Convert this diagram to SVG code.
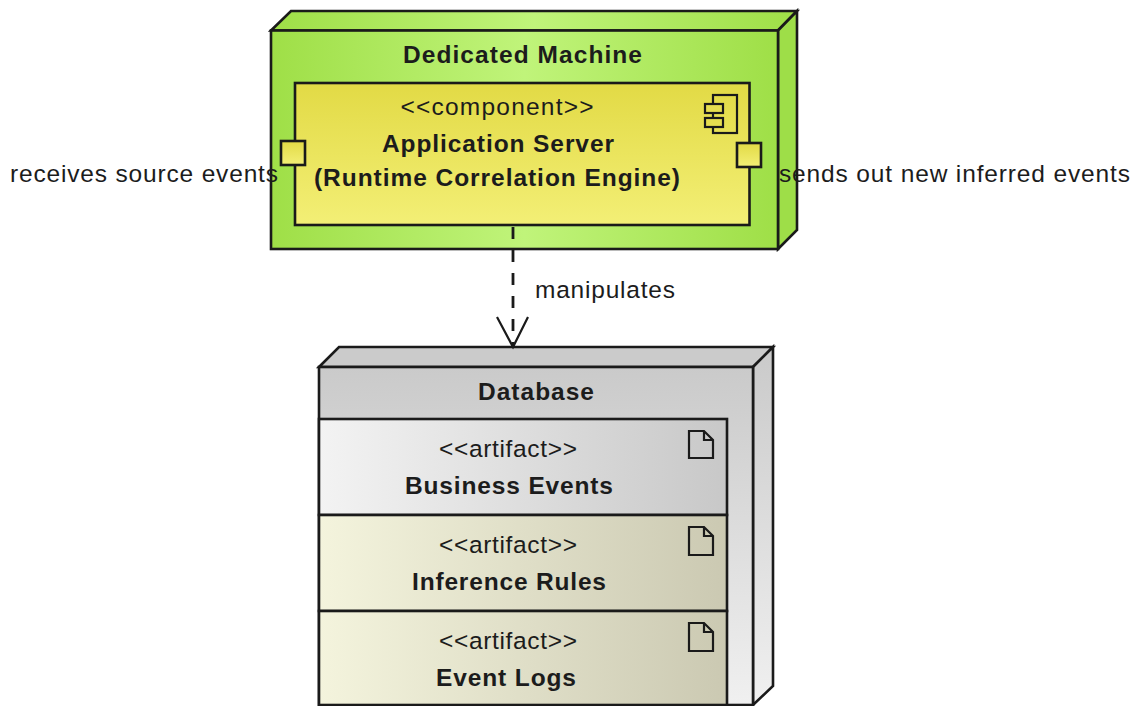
<svg xmlns="http://www.w3.org/2000/svg" width="1136" height="706" viewBox="0 0 1136 706">
<style>
text{font-family:"Liberation Sans",Arial,sans-serif;fill:#1c1c1c;font-size:24.500px}
.b{font-weight:bold}
.s{stroke:#1a1a1a;stroke-width:2.600;stroke-linejoin:miter}
.i{fill:none;stroke:#1a1a1a;stroke-width:2.200}
.m{fill:#e6de50;stroke:#1a1a1a;stroke-width:2.200}
</style>
<defs>
<linearGradient id="gn"><stop offset="0" stop-color="#9fdf47"/><stop offset=".5" stop-color="#c0f47a"/><stop offset="1" stop-color="#9fdf47"/></linearGradient>
<linearGradient id="yl" x2="0" y2="1"><stop offset="0" stop-color="#e2da45"/><stop offset="1" stop-color="#f3ef76"/></linearGradient>
<linearGradient id="gy" x2="0" y2="1"><stop offset="0" stop-color="#cacaca"/><stop offset="1" stop-color="#f0f0f0"/></linearGradient>
<linearGradient id="ws"><stop offset="0" stop-color="#f3f3f3"/><stop offset="1" stop-color="#c8c8c8"/></linearGradient>
<linearGradient id="ar"><stop offset="0" stop-color="#f4f4dd"/><stop offset="1" stop-color="#cbc9b2"/></linearGradient>
</defs>
<g id="node-database">
<path class="s" d="M319 367L339 347H773L753 367Z" fill="#cbcbcb"/>
<path class="s" d="M753 367L773 347V686L753 705Z" fill="url(#gy)"/>
<rect class="s" x="319" y="367" width="434" height="338" fill="url(#gy)"/>
<text class="b" x="536" y="400" text-anchor="middle" textLength="116">Database</text>
</g>
<g id="node-business-events">
<rect class="s" x="319" y="419" width="408" height="96" fill="url(#ws)"/>
<text x="508" y="457" text-anchor="middle" textLength="138">&lt;&lt;artifact&gt;&gt;</text>
<text class="b" x="509" y="494" text-anchor="middle" textLength="208">Business Events</text>
<path class="i" d="M689 431H704L713 440V458H689ZM704 431V440H713"/>
</g>
<g id="node-inference-rules">
<rect class="s" x="319" y="515" width="408" height="96" fill="url(#ar)"/>
<text x="508" y="553" text-anchor="middle" textLength="138">&lt;&lt;artifact&gt;&gt;</text>
<text class="b" x="509" y="590" text-anchor="middle" textLength="194">Inference Rules</text>
<path class="i" d="M689 527H704L713 536V555H689ZM704 527V536H713"/>
</g>
<g id="node-event-logs">
<rect class="s" x="319" y="611" width="408" height="94" fill="url(#ar)"/>
<text x="508" y="649" text-anchor="middle" textLength="138">&lt;&lt;artifact&gt;&gt;</text>
<text class="b" x="506" y="686" text-anchor="middle" textLength="140">Event Logs</text>
<path class="i" d="M689 623H704L713 632V651H689ZM704 623V632H713"/>
</g>
<g id="node-dedicated-machine">
<path class="s" d="M271 30.500L291 11H797L778 30.500Z" fill="url(#gn)"/>
<path class="s" d="M778 30.500L797 11V230L778 249Z" fill="#9ede48"/>
<rect class="s" x="271" y="30.500" width="507" height="218.500" fill="url(#gn)"/>
<text class="b" x="522.500" y="63" text-anchor="middle" textLength="239">Dedicated Machine</text>
</g>
<g id="node-application-server">
<rect class="s" x="295" y="83" width="454.500" height="142" fill="url(#yl)"/>
<text x="497" y="115" text-anchor="middle" textLength="193">&lt;&lt;component&gt;&gt;</text>
<text class="b" x="498" y="152" text-anchor="middle" textLength="232">Application Server</text>
<text class="b" x="497" y="186" text-anchor="middle" textLength="366">(Runtime Correlation Engine)</text>
<rect class="i" x="713" y="95" width="24" height="38"/>
<rect class="m" x="705" y="104" width="18" height="9"/>
<rect class="m" x="705" y="118" width="18" height="9"/>
</g>
<g id="port-in">
<rect class="s" x="281" y="141" width="24" height="24" fill="url(#yl)"/>
<text x="10" y="182" textLength="268">receives source events</text>
</g>
<g id="port-out">
<rect class="s" x="737" y="143" width="24" height="24" fill="url(#yl)"/>
<text x="779" y="182" textLength="351">sends out new inferred events</text>
</g>
<g id="connectors">
<path d="M513 227V347" fill="none" stroke="#1a1a1a" stroke-width="2.800" stroke-dasharray="12 11"/>
<path d="M497 317L513 347L528 317" fill="none" stroke="#1a1a1a" stroke-width="2.200"/>
<text x="535" y="298" textLength="140">manipulates</text>
</g>
</svg>
